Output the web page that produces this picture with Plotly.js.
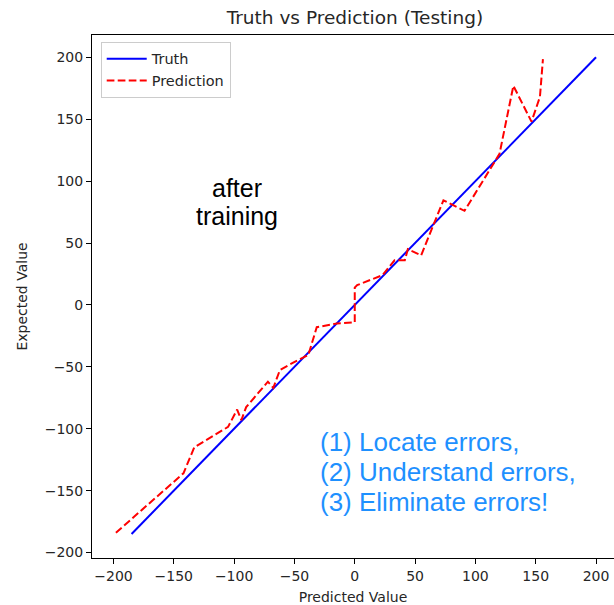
<!DOCTYPE html>
<html>
<head>
<meta charset="utf-8">
<script src="https://cdn.plot.ly/plotly-3.0.1.min.js"></script>
<style>html,body{margin:0;padding:0;background:#fff;}#chart{width:614px;height:605px;}</style>
</head>
<body>
<div id="chart"></div>
<script>
// Truth line (y = x)
const truthX = [-185, 200];
const truthY = [-185, 200];

// Prediction line vertices
const predX = [-198, -142, -133, -105, -97.5, -94, -90, -79, -72, -67.5, -62, -47, -38.5, -31.5, -15, 0, 0, 2, 23, 33, 41.5, 44, 55, 73.5, 91, 120, 131.5, 146.5, 153.5, 156];
const predY = [-184, -136, -115, -98.5, -84.5, -93, -82.5, -70, -62, -67, -52.5, -44.5, -40.5, -18, -15, -14, 14, 16, 24, 36, 36, 45, 40, 84.5, 76, 122, 177, 148, 168, 198.5];

const tickVals = [-200, -150, -100, -50, 0, 50, 100, 150, 200];

const titleText = "Truth vs Prediction (Testing)";
const xTitle = "Predicted Value";
const yTitle = "Expected Value";
const noteLines = ["after", "training"];
const blueLines = ["(1) Locate errors,", "(2) Understand errors,", "(3) Eliminate errors!"];

const mplFont = "DejaVu Sans, sans-serif";
const txtColor = "#262626";

const traces = [
  {x: truthX, y: truthY, mode: "lines", name: "Truth", line: {color: "#0000ff", width: 2}},
  {x: predX, y: predY, mode: "lines", name: "Prediction", line: {color: "#ff0000", width: 2, dash: "7.7px,3.3px"}}
];

const annotations = [];
const noteY = [94.5, 71.5];
noteLines.forEach((t, i) => annotations.push({
  x: -97.7, y: noteY[i], xref: "x", yref: "y", text: t, showarrow: false,
  xanchor: "center", yanchor: "middle",
  font: {family: "Liberation Sans, Arial, sans-serif", size: 25, color: "#000"}
}));
const blueY = [-110.8, -135.3, -159.4];
blueLines.forEach((t, i) => annotations.push({
  x: -30.5, y: blueY[i], xref: "x", yref: "y", text: t, showarrow: false,
  xanchor: "left", yanchor: "middle",
  font: {family: "Liberation Sans, Arial, sans-serif", size: 26, color: "#1e90ff"}
}));

const layout = {
  width: 614, height: 605,
  paper_bgcolor: "#fff", plot_bgcolor: "#fff",
  margin: {l: 92, r: 0, t: 35, b: 47},
  font: {family: mplFont, size: 14, color: txtColor},
  title: {text: titleText, font: {family: mplFont, size: 18.5, color: txtColor},
          xref: "container", yref: "container", x: 0.578, xanchor: "center", y: 1 - 18/605, yanchor: "middle"},
  showlegend: true,
  legend: {x: 0.0167, y: 0.987, xanchor: "left", yanchor: "top",
           bgcolor: "rgba(255,255,255,0.8)", bordercolor: "#cccccc", borderwidth: 1,
           font: {family: mplFont, size: 14.5, color: txtColor}, itemwidth: 40},
  xaxis: {range: [-217.8, 214.9], tickvals: tickVals, ticks: "outside", ticklen: 5, tickwidth: 1, tickcolor: "#000",
          showline: true, linecolor: "#000", linewidth: 1, mirror: true, showgrid: false, zeroline: false,
          tickfont: {family: mplFont, size: 14, color: txtColor},
          title: {text: xTitle, font: {family: mplFont, size: 14, color: txtColor}, standoff: 9}},
  yaxis: {range: [-204.4, 218.0], tickvals: tickVals, ticks: "outside", ticklen: 5, tickwidth: 1, tickcolor: "#000",
          showline: true, linecolor: "#000", linewidth: 1, mirror: false, showgrid: false, zeroline: false,
          tickfont: {family: mplFont, size: 14, color: txtColor},
          title: {text: yTitle, font: {family: mplFont, size: 14, color: txtColor}, standoff: 13}},
  annotations: annotations
};

Plotly.newPlot("chart", traces, layout, {staticPlot: true, displayModeBar: false});
</script>
</body>
</html>
